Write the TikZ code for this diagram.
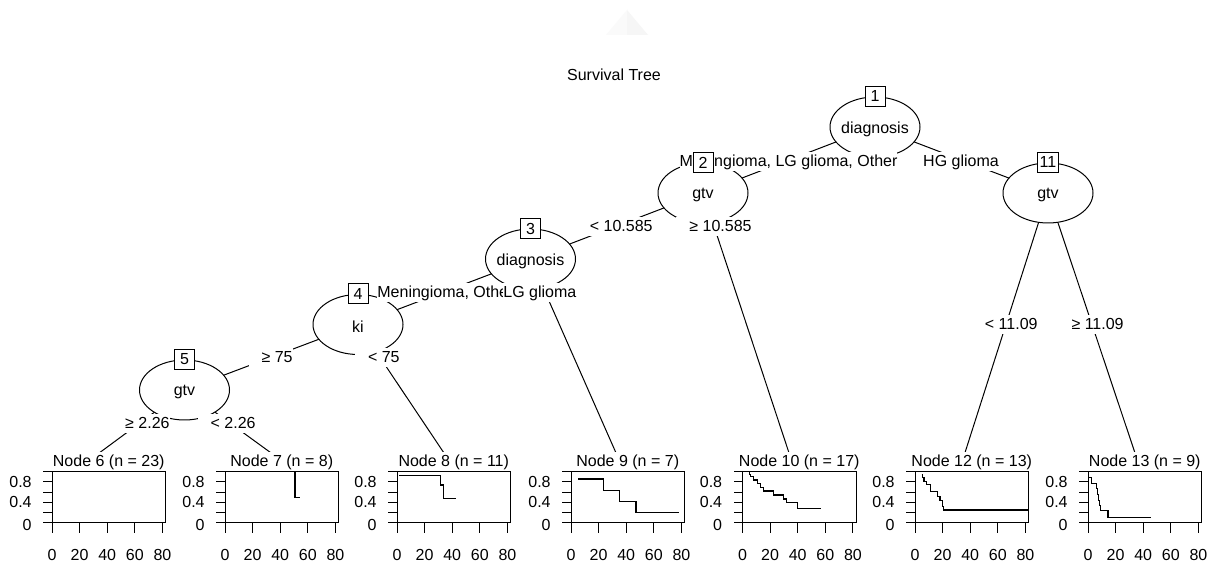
\documentclass[tikz,border=0pt]{standalone}
\usepackage{fontspec}
\setmainfont{Liberation Sans}
\usetikzlibrary{shapes.geometric}
\pgfdeclarelayer{paper}
\pgfdeclarelayer{edgelayer}
\pgfsetlayers{paper,edgelayer,main}

\tikzset{
  splitnode/.style={ellipse, draw=black, fill=white, line width=0.5pt,
    minimum width=45pt, minimum height=30pt, inner sep=0pt},
  vartext/.style={inner sep=0pt, yshift=-1pt},
  idbox/.style={rectangle, draw=black, fill=white, line width=0.5pt,
    minimum width=10pt, minimum height=10pt, inner xsep=1.3pt, inner ysep=0pt},
  elabel/.style={fill=white, inner xsep=0pt, inner ysep=0.85pt,
    text height=6pt, text depth=1.8pt},
  link/.style={draw=black, line width=0.5pt},
  hdr/.style={elabel},
  panelframe/.style={draw=black, line width=0.5pt},
  ticklab/.style={inner sep=0pt},
  kmcurve/.style={draw=black, line width=0.55pt},
}

% one Kaplan-Meier panel: #1 node id, #2 left edge, #3 n, #4 step path
\newcommand\survpanel[4]{%
  \node[hdr] (h#1) at (#2+56.75,462) {Node #1 (n = #3)};
  \begin{scope}[xshift={#2*0.5pt}, yshift=-261.5pt, x=0.69pt, y=25.65pt]
    \draw[panelframe] (0,0) rectangle (82.25,1);
    \foreach \s in {0,0.2,0.4,0.6,0.8,1}
      \draw[panelframe] (0,\s) -- ++(-4.5pt,0);
    \foreach \t in {0,20,40,60,80} {
      \draw[panelframe] (\t,0) -- ++(0,-5pt);
      \node[ticklab] (p#1x\t) at ([yshift=-16pt]\t,0) {\t};
    }
    \node[ticklab, anchor=east] (p#1ya) at ([xshift=-10pt,yshift=-1pt]0,0) {0};
    \node[ticklab, anchor=east] (p#1yb) at ([xshift=-10pt]0,0.4) {0.4};
    \node[ticklab, anchor=east] (p#1yc) at ([xshift=-10pt]0,0.8) {0.8};
    \draw[kmcurve] #4;
  \end{scope}}

\begin{document}
\begin{tikzpicture}[x=0.5pt, y=-0.5pt, font=\fontsize{8pt}{9.6pt}\selectfont]
\useasboundingbox (0,0) rectangle (1215,565);
\begin{pgfonlayer}{paper}
  \fill[white] (0,0) rectangle (1215,565);
  % faint mark at the top
  \fill[black!2] (627,10) -- (606,35) -- (627,35) -- cycle;
  \fill[black!3.5] (627,10) -- (648,35) -- (627,35) -- cycle;
\end{pgfonlayer}

\node (title) at (614,75) {Survival Tree};

% inner (split) nodes
\node[splitnode] (n1)  at (875,127)   {};
\node[splitnode] (n2)  at (703,193)   {};
\node[splitnode] (n11) at (1048,193)  {};
\node[splitnode] (n3)  at (530.5,259) {};
\node[splitnode] (n4)  at (358,324.5) {};
\node[splitnode] (n5)  at (184.5,390) {};
\node[vartext] (n1t)  at (n1)  {diagnosis};
\node[vartext] (n2t)  at (n2)  {gtv};
\node[vartext] (n11t) at (n11) {gtv};
\node[vartext] (n3t)  at (n3)  {diagnosis};
\node[vartext] (n4t)  at (n4)  {ki};
\node[vartext] (n5t)  at (n5)  {gtv};

% tops of the terminal nodes
\coordinate (t6)  at (87,462);
\coordinate (t7)  at (283.5,462);
\coordinate (t8)  at (450,462);
\coordinate (t9)  at (620,462);
\coordinate (t10) at (792,462);
\coordinate (t12) at (962,462);
\coordinate (t13) at (1138,462);

\begin{pgfonlayer}{edgelayer}
  \draw[link] (n1.center) -- (n2.center);
  \draw[link] (n1.center) -- (n11.center);
  \draw[link] (n2.center) -- (n3.center);
  \draw[link] (n2.center) -- (t10);
  \draw[link] (n3.center) -- (n4.center);
  \draw[link] (n3.center) -- (t9);
  \draw[link] (n4.center) -- (n5.center);
  \draw[link] (n4.center) -- (t8);
  \draw[link] (n5.center) -- (t6);
  \draw[link] (n5.center) -- (t7);
  \draw[link] (n11.center) -- (t12);
  \draw[link] (n11.center) -- (t13);
\end{pgfonlayer}

% edge labels
\node[elabel] (e12) at (788.5,162) {Meningioma, LG glioma, Other};
\node[elabel] (e111) at (961,162) {HG glioma};
\node[elabel, anchor=east] (e23) at (653,227) {\hspace*{6.5pt}< 10.585};
\node[elabel, anchor=east] (e210) at (752,227) {\hspace*{6.5pt}≥ 10.585};
\node[elabel, anchor=west] (e34) at (377,293) {Meningioma, Other};
\node[elabel, anchor=west] (e39) at (503,293) {LG glioma};
\node[elabel, anchor=east] (e45) at (293,358) {\hspace*{6.5pt}≥ 75};
\node[elabel, anchor=east] (e48) at (400,358) {\hspace*{6.5pt}< 75};
\node[elabel, anchor=east] (e56) at (170,424) {\hspace*{6.5pt}≥ 2.26};
\node[elabel, anchor=east] (e57) at (256,424) {\hspace*{6.5pt}< 2.26};
\node[elabel, anchor=east] (e1112) at (1038,325) {\hspace*{6.5pt}< 11.09};
\node[elabel, anchor=east] (e1113) at (1124,325) {\hspace*{6.5pt}≥ 11.09};

% node id boxes
\node[idbox] (b1)  at (n1.north)  {1};
\node[idbox] (b2)  at (n2.north)  {2};
\node[idbox] (b11) at (n11.north) {11};
\node[idbox] (b3)  at (n3.north)  {3};
\node[idbox] (b4)  at (n4.north)  {4};
\node[idbox] (b5)  at (n5.north)  {5};

% terminal nodes
\survpanel{6}{52}{23}{}
\survpanel{7}{225}{8}{(50.7,1) -- (50.7,0.5) -- (54.3,0.5)}
\survpanel{8}{397}{11}{(1.5,0.92) -- (31.7,0.92) -- (31.7,0.74) -- (33.6,0.74)
  -- (33.6,0.48) -- (42.5,0.48)}
\survpanel{9}{571}{7}{(5.3,0.857) -- (23.4,0.857) -- (23.4,0.635) -- (35,0.635)
  -- (35,0.42) -- (47.1,0.42) -- (47.1,0.205) -- (78.5,0.205)}
\survpanel{10}{742.5}{17}{(4.1,1) -- (5,1) -- (5,0.95) -- (5.8,0.95) -- (5.8,0.902)
  -- (8.2,0.902) -- (8.2,0.838) -- (10.6,0.838) -- (10.6,0.773) -- (13,0.773)
  -- (13,0.695) -- (15.5,0.695) -- (15.5,0.624) -- (22.2,0.624) -- (22.2,0.546)
  -- (30,0.546) -- (30,0.468) -- (31.9,0.468) -- (31.9,0.396) -- (40,0.396)
  -- (40,0.287) -- (57.2,0.287)}
\survpanel{12}{915}{13}{(4.8,0.95) -- (5.6,0.95) -- (5.6,0.88) -- (6.5,0.88)
  -- (6.5,0.805) -- (8.5,0.805) -- (8.5,0.754) -- (10.9,0.754) -- (10.9,0.657)
  -- (11.5,0.657) -- (11.5,0.61) -- (16.2,0.61) -- (16.2,0.513) -- (18.1,0.513)
  -- (18.1,0.435) -- (20,0.435) -- (20,0.33) -- (20.5,0.33) -- (20.5,0.253)
  -- (82.25,0.253)}
\survpanel{13}{1088}{9}{(0.5,0.889) -- (2.5,0.889) -- (2.5,0.778) -- (6,0.778)
  -- (6,0.667) -- (6.8,0.667) -- (6.8,0.556) -- (7.5,0.556) -- (7.5,0.444)
  -- (8.2,0.444) -- (8.2,0.333) -- (9,0.333) -- (9,0.235) -- (14.5,0.235)
  -- (14.5,0.111) -- (46,0.111)}
\end{tikzpicture}
\end{document}
